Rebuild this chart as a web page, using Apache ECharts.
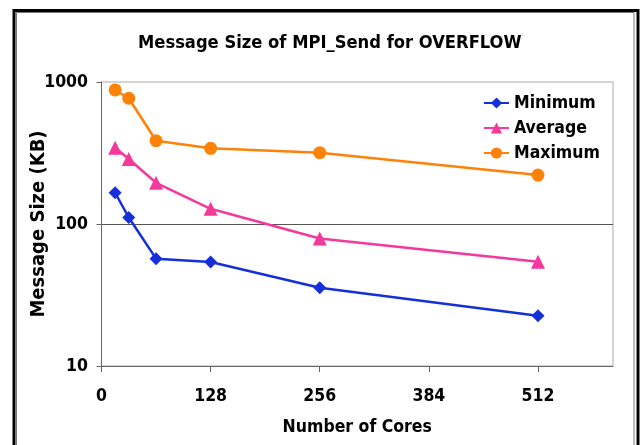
<!DOCTYPE html>
<html>
<head>
<meta charset="utf-8">
<script src="https://cdn.jsdelivr.net/npm/echarts@6/dist/echarts.min.js"></script>
<style>
html,body{margin:0;padding:0;background:#fff;}
#c{width:643px;height:445px;}
</style>
</head>
<body>
<div id="c"></div>
<script>
const cores = [16, 32, 64, 128, 256, 512];
const minimum = [166, 111, 57, 54, 35.6, 22.6];
const average = [345, 287, 195, 128, 79, 54.3];
const maximum = [879, 768, 386, 341, 318, 221];
const xTicks = [0, 128, 256, 384, 512];
const FONT = 'DejaVu Sans Condensed';

function pairs(ys){ return cores.map((c,i)=>[c, ys[i]]); }

const chart = echarts.init(document.getElementById('c'), null, {renderer:'canvas'});
chart.setOption({
  animation:false,
  backgroundColor:'#fff',
  title:{
    text:'Message Size of MPI_Send for OVERFLOW',
    left:133, top:29,
    textStyle:{fontFamily:FONT, fontWeight:'bold', fontSize:18.2, color:'#000'}
  },
  graphic:[
    {type:'rect', shape:{x:14, y:10.5, width:624, height:460}, style:{fill:null, stroke:'#000', lineWidth:3}, silent:true},
    {type:'rect', shape:{x:16.5, y:12.5, width:617.5, height:460}, style:{fill:null, stroke:'#777', lineWidth:1}, silent:true}
  ],
  legend:{
    orient:'vertical', left:478, top:89, itemGap:7, itemWidth:25, itemHeight:14,
    textStyle:{fontFamily:FONT, fontWeight:'bold', fontSize:17.5, color:'#000'},
    data:['Minimum','Average','Maximum']
  },
  grid:{left:101.5, right:30, top:82, bottom:79, show:true, borderColor:'#aaa', borderWidth:1, backgroundColor:'transparent'},
  xAxis:{
    type:'value', min:0, max:600, interval:128,
    name:'Number of Cores', nameLocation:'middle', nameGap:52, nameMoveOverlap:false,
    nameTextStyle:{fontFamily:FONT, fontWeight:'bold', fontSize:17.5, color:'#000'},
    axisLine:{lineStyle:{color:'#666', width:1}},
    axisTick:{show:true, length:6, lineStyle:{color:'#666'}, customValues:xTicks},
    axisLabel:{fontFamily:FONT, fontWeight:'bold', fontSize:17.5, color:'#000', margin:21, customValues:xTicks},
    splitLine:{show:false}
  },
  yAxis:{
    type:'log', logBase:10, min:10, max:1000,
    name:'Message Size (KB)', nameLocation:'middle', nameGap:53, nameRotate:90, nameMoveOverlap:false,
    nameTextStyle:{fontFamily:FONT, fontWeight:'bold', fontSize:20, color:'#000'},
    axisLine:{show:true, lineStyle:{color:'#666', width:1}},
    axisTick:{show:true, length:5, lineStyle:{color:'#666'}},
    axisLabel:{fontFamily:FONT, fontWeight:'bold', fontSize:17.5, color:'#000', margin:13.5,
      formatter:(v)=>String(Math.round(v))},
    splitLine:{show:true, showMinLine:false, showMaxLine:false, lineStyle:{color:'#555', width:1}},
    minorTick:{show:false}
  },
  series:[
    {name:'Minimum', type:'line', data:pairs(minimum), symbol:'diamond', symbolSize:13,
     lineStyle:{color:'#1530d8', width:2.5}, itemStyle:{color:'#1530d8'}},
    {name:'Average', type:'line', data:pairs(average), symbol:'triangle', symbolSize:14,
     lineStyle:{color:'#f5399c', width:2.5}, itemStyle:{color:'#f5399c'}},
    {name:'Maximum', type:'line', data:pairs(maximum), symbol:'circle', symbolSize:13,
     lineStyle:{color:'#ff8208', width:2.5}, itemStyle:{color:'#ff8208'}}
  ]
});
</script>
</body>
</html>
